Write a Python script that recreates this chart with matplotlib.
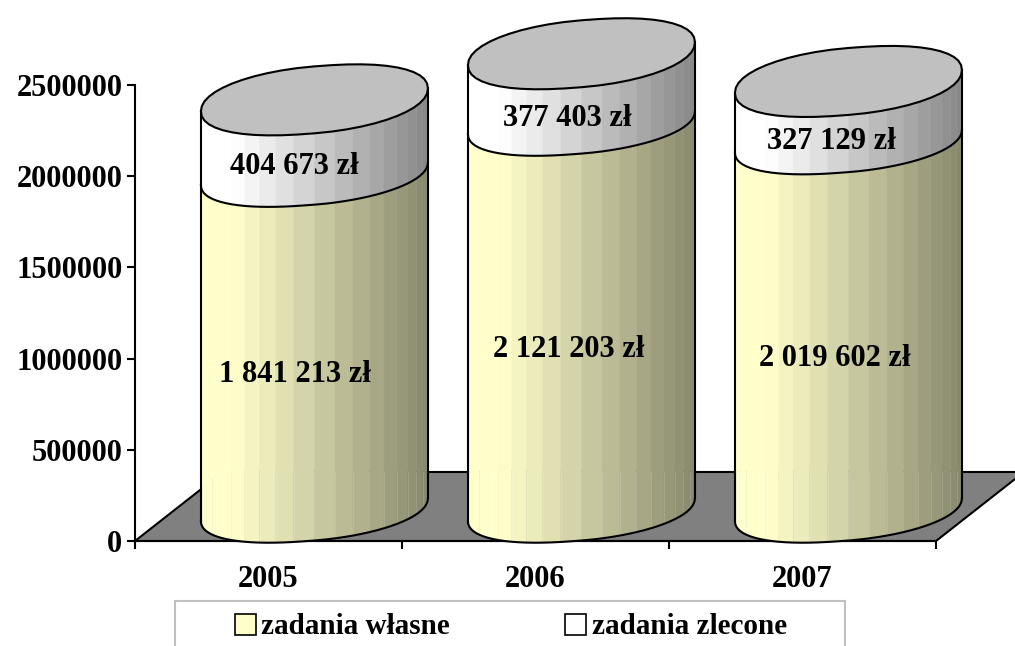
import numpy as np
import matplotlib
matplotlib.use('Agg')
import matplotlib.pyplot as plt
from matplotlib.patches import Polygon, Rectangle

years = ['2005', '2006', '2007']
zadania_wlasne = [1841213, 2121203, 2019602]
zadania_zlecone = [404673, 377403, 327129]
y_ticks = [0, 500000, 1000000, 1500000, 2000000, 2500000]

plt.rcParams['font.family'] = 'Liberation Serif'
plt.rcParams['font.weight'] = 'bold'
FS = 21
FS_BIG = 22

W, H = 1015, 646
fig = plt.figure(figsize=(W / 100, H / 100), dpi=100)
ax = fig.add_axes([135 / W, 1 - 541 / H, 801 / W, 456 / H])
ax.set_xlim(0, 3)
ax.set_ylim(0, 2500000)

# size of one pixel in data units
px = 3 / 801
py = 2500000 / 456

# oblique 3D look
depth_x = 0.172
half_w = 113.5 * px
tilt = 11.5 * py
round_h = 31 * py
base_y = 31.5 * py
FLOOR_BACK = 69 * py

YELLOW = np.array([255, 255, 204]) / 255
WHITE = np.array([255, 255, 255]) / 255


def shade(t):
    # light on the left, getting darker to the right
    return 1.0 if t < 0.15 else 1.0 - 0.47 * (t - 0.15) / 0.85


def squarish(v):
    # the ellipses in the original are a bit boxy
    return np.sign(v) * np.abs(v) ** 0.92


def front_curve(cx, level, theta):
    x = cx + half_w * squarish(np.cos(theta))
    y = level + tilt * np.cos(theta) - round_h * squarish(np.sin(theta))
    return x, y


def draw_segment(cx, y0, y1, color, z):
    thetas = np.linspace(np.pi, 0, 21)
    for k in range(20):
        x_a, y_a = front_curve(cx, y0, thetas[k])
        x_b, y_b = front_curve(cx, y0, thetas[k + 1])
        x_c, y_c = front_curve(cx, y1, thetas[k + 1])
        x_d, y_d = front_curve(cx, y1, thetas[k])
        t = (0.5 * (x_a + x_b) - cx + half_w) / (2 * half_w)
        c = color * shade(t)
        ax.add_patch(Polygon([(x_a, y_a), (x_b, y_b), (x_c, y_c), (x_d, y_d)], closed=True,
                             facecolor=c, edgecolor=c, linewidth=0.3, clip_on=False, zorder=z))


# floor
ax.add_patch(Polygon([(0, 0), (3, 0), (3 + 88 * px, FLOOR_BACK), (88 * px, FLOOR_BACK)], closed=True,
                     facecolor='#808080', edgecolor='black', linewidth=1.5, clip_on=False, zorder=1))

label_dx_low = [-19, -13, -14]
label_dx_up = [-20, -14, -17]
theta_front = np.linspace(np.pi, 0, 41)
theta_all = np.linspace(0, 2 * np.pi, 49)

for i in range(3):
    cx = i + 0.5 + depth_x
    y1 = base_y + zadania_wlasne[i]
    y2 = y1 + zadania_zlecone[i]
    draw_segment(cx, base_y, y1, YELLOW, 3)
    draw_segment(cx, y1, y2, WHITE, 3)

    # thin light seams low on the cylinder
    for th in np.linspace(np.pi, 0, 21)[1:-1]:
        sx, sy = front_curve(cx, base_y, th)
        ax.plot([sx, sx], [sy, FLOOR_BACK], color='white', alpha=0.15, lw=0.7, clip_on=False, zorder=4)

    # outline
    for level in (base_y, y1):
        lx, ly = front_curve(cx, level, theta_front)
        ax.plot(lx, ly, color='black', lw=1.5, clip_on=False, zorder=5)
    ax.plot([cx - half_w] * 2, [base_y - tilt, y2 - tilt], color='black', lw=1.5, clip_on=False, zorder=5)
    ax.plot([cx + half_w] * 2, [base_y + tilt, y2 + tilt], color='black', lw=1.5, clip_on=False, zorder=5)

    # top cap
    tx = cx + half_w * squarish(np.cos(theta_all))
    ty = y2 + tilt * np.cos(theta_all) + round_h * 1.08 * squarish(np.sin(theta_all))
    ax.add_patch(Polygon(np.column_stack([tx, ty]), closed=True, facecolor='#c0c0c0', edgecolor='black',
                         linewidth=1.5, clip_on=False, zorder=6))

    ax.text(cx + label_dx_low[i] * px, 0.5 * (base_y + y1) - 33 * py,
            f'{zadania_wlasne[i]:,}'.replace(',', ' ') + ' zł',
            ha='center', va='center', fontsize=FS_BIG, zorder=7)
    ax.text(cx + label_dx_up[i] * px, 0.5 * (y1 + y2) - 30 * py,
            f'{zadania_zlecone[i]:,}'.replace(',', ' ') + ' zł',
            ha='center', va='center', fontsize=FS_BIG, zorder=7)

# axes
for side in ('top', 'right'):
    ax.spines[side].set_visible(False)
ax.spines['left'].set_linewidth(1.5)
ax.spines['bottom'].set_linewidth(1.5)
ax.spines['left'].set_zorder(2)
ax.spines['bottom'].set_zorder(2)
ax.patch.set_visible(False)

ax.set_yticks(y_ticks)
ax.set_yticklabels([str(v) for v in y_ticks], fontsize=FS_BIG)
ax.set_xticks([0, 1, 2, 3])
ax.set_xticklabels([])
ax.set_xticks([0.5, 1.5, 2.5], labels=years, minor=True, fontsize=FS_BIG)
ax.tick_params(axis='x', which='major', length=6, width=1.5, direction='out')
ax.tick_params(axis='x', which='minor', length=0, pad=17)
ax.tick_params(axis='y', length=6, width=1.5, direction='out', pad=3)

# legend box runs off the bottom of the picture
fig.add_artist(Rectangle((175 / W, -10 / H), 670 / W, (H - 601 + 10) / H, transform=fig.transFigure,
                         facecolor='white', edgecolor='#c0c0c0', linewidth=1.5))
handles = [Rectangle((0, 0), 1, 1, facecolor='#ffffcc', edgecolor='black', linewidth=1.2),
           Rectangle((0, 0), 1, 1, facecolor='white', edgecolor='black', linewidth=1.2)]
fig.legend(handles, ['zadania własne', 'zadania zlecone'], ncol=2, frameon=False, fontsize=FS,
           loc='center left', bbox_to_anchor=(220 / W, 1 - 627 / H), borderpad=0,
           handlelength=0.72, handleheight=0.72, handletextpad=0.2, columnspacing=3.95)

fig.savefig('out.png', dpi=100)
